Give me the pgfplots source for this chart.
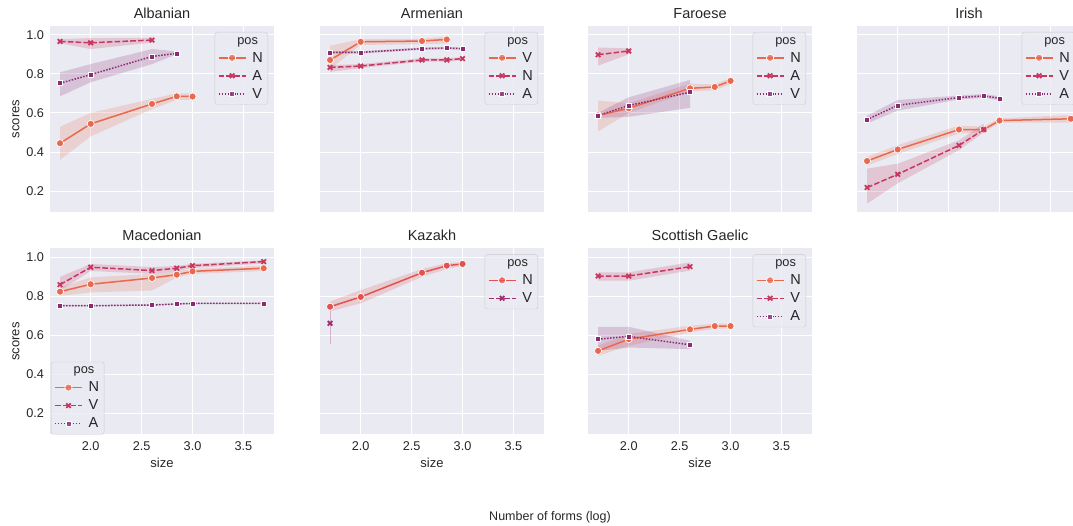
\documentclass[border=0pt]{standalone}
\usepackage{pgfplots}
\pgfplotsset{compat=1.18}
\usepackage{fontspec}
\setmainfont{Liberation Sans}
\definecolor{bgc}{HTML}{EAEAF2}
\definecolor{txt}{HTML}{262626}
\definecolor{legc}{HTML}{CCCCCC}
\definecolor{ca}{HTML}{E8694F}
\definecolor{cb}{HTML}{C8375F}
\definecolor{cc}{HTML}{8C2A72}
\definecolor{ka}{HTML}{E0534F}
\definecolor{kb}{HTML}{A12E6F}

% band polygon: upper edge left->right, then lower edge right->left
\newcommand{\band}[2]{\addplot[fill=#1, fill opacity=0.2, draw=none, forget plot] coordinates {#2};}
\newcommand{\legtitle}{\addlegendimage{empty legend}\addlegendentry{\hspace*{-15pt}\fontsize{12.8}{14}\selectfont pos}}

\pgfplotsset{
  sa/.style={color=#1, line width=1.5pt, mark=*, mark size=3.6pt,
    mark options={solid, fill=#1, draw=white, line width=0.7pt}},
  sb/.style={color=#1, line width=1.5pt, dash pattern=on 5.6pt off 2.2pt, mark=x, mark size=3.2pt,
    mark options={solid, line width=1.8pt}},
  sc/.style={color=#1, line width=1.5pt, dash pattern=on 1.5pt off 1.5pt, mark=square*, mark size=2.5pt,
    mark options={solid, fill=#1, draw=white, line width=0.5pt}},
  sbax/.style={
    scale only axis, width=224pt, height=186pt,
    xmin=1.6, xmax=3.8, ymin=0.093, ymax=1.045,
    axis background/.style={fill=bgc},
    axis line style={draw=none},
    major tick length=0pt,
    xmajorgrids, ymajorgrids,
    grid style={white, line width=1pt},
    xtick={2,2.5,3,3.5}, ytick={0.2,0.4,0.6,0.8,1.0},
    tick label style={font=\fontsize{12.7}{14}\selectfont, text=txt,
      /pgf/number format/assume math mode=true,
      /pgf/number format/fixed, /pgf/number format/fixed zerofill,
      /pgf/number format/precision=1},
    yticklabel style={xshift=-2.5pt},
    xticklabel style={yshift=-4pt},
    title style={font=\fontsize{14.5}{16}\selectfont, text=txt, yshift=-2pt},
    label style={font=\fontsize{13}{15}\selectfont, text=txt},
    legend style={at={(1,1)}, anchor=north east, xshift=-6pt, yshift=-6pt,
      draw=legc, fill=bgc, fill opacity=0.8, text opacity=1, rounded corners=2.5pt,
      font=\fontsize{14.5}{16}\selectfont, text=txt, inner xsep=3pt, inner ysep=3pt,
      row sep=2.5pt, column sep=4pt},
    legend cell align=left,
    legend image code/.code={\draw[mark repeat=2, mark phase=2, line width=1.5pt, ##1]
      plot coordinates {(0pt,0pt) (13.5pt,0pt) (27pt,0pt)};},
  }
}

\begin{document}
\begin{tikzpicture}
\useasboundingbox (0,0) rectangle (1073pt,526pt);
\clip (0,0) rectangle (1073pt,526pt);

% ---------- Albanian ----------
\begin{axis}[sbax, at={(50pt,500pt)}, anchor=north west, title={Albanian},
  xticklabels={}, ylabel={scores}]
\legtitle
\band{ca}{(1.699,0.53) (2.0,0.60) (2.602,0.672) (2.845,0.70) (3.0,0.70) (3.0,0.667) (2.845,0.667) (2.602,0.62) (2.0,0.48) (1.699,0.36)}
\band{cb}{(1.699,0.978) (2.0,0.983) (2.602,0.985) (2.602,0.96) (2.0,0.927) (1.699,0.956)}
\band{cc}{(1.699,0.808) (2.0,0.85) (2.602,0.927) (2.845,0.915) (2.845,0.90) (2.602,0.85) (2.0,0.757) (1.699,0.685)}
\addplot[sa=ca] coordinates {(1.699,0.445) (2.0,0.544) (2.602,0.646) (2.845,0.685) (3.0,0.684)}; \addlegendentry{N}
\addplot[sb=cb] coordinates {(1.699,0.966) (2.0,0.959) (2.602,0.973)}; \addlegendentry{A}
\addplot[sc=cc] coordinates {(1.699,0.752) (2.0,0.796) (2.602,0.889) (2.845,0.905)}; \addlegendentry{V}
\end{axis}

% ---------- Armenian ----------
\begin{axis}[sbax, at={(320pt,500pt)}, anchor=north west, title={Armenian},
  xticklabels={}, yticklabels={}]
\legtitle
\band{ca}{(1.699,0.944) (2.0,0.977) (2.602,0.980) (2.845,0.99) (2.845,0.955) (2.602,0.952) (2.0,0.948) (1.699,0.825)}
\band{cb}{(1.699,0.845) (2.0,0.85) (2.602,0.880) (2.845,0.879) (3.0,0.886) (3.0,0.87) (2.845,0.863) (2.602,0.862) (2.0,0.83) (1.699,0.81)}
\band{cc}{(1.699,0.917) (2.0,0.916) (2.602,0.935) (2.845,0.938) (3.0,0.935) (3.0,0.923) (2.845,0.926) (2.602,0.923) (2.0,0.904) (1.699,0.903)}
\addplot[sa=ca] coordinates {(1.699,0.871) (2.0,0.964) (2.602,0.968) (2.845,0.976)}; \addlegendentry{V}
\addplot[sb=cb] coordinates {(1.699,0.833) (2.0,0.84) (2.602,0.871) (2.845,0.871) (3.0,0.878)}; \addlegendentry{N}
\addplot[sc=cc] coordinates {(1.699,0.91) (2.0,0.91) (2.602,0.929) (2.845,0.932) (3.0,0.929)}; \addlegendentry{A}
\end{axis}

% ---------- Faroese ----------
\begin{axis}[sbax, at={(588pt,500pt)}, anchor=north west, title={Faroese},
  xticklabels={}, yticklabels={}]
\legtitle
\band{ca}{(1.699,0.663) (2.0,0.65) (2.602,0.75) (2.845,0.746) (3.0,0.78) (3.0,0.746) (2.845,0.716) (2.602,0.71) (2.0,0.60) (1.699,0.505)}
\band{cb}{(1.699,0.935) (2.0,0.93) (2.0,0.90) (1.699,0.842)}
\band{cc}{(1.699,0.60) (2.0,0.68) (2.602,0.769) (2.602,0.626) (2.0,0.58) (1.699,0.575)}
\addplot[sa=ca] coordinates {(1.699,0.587) (2.0,0.624) (2.602,0.726) (2.845,0.733) (3.0,0.764)}; \addlegendentry{N}
\addplot[sb=cb] coordinates {(1.699,0.898) (2.0,0.917)}; \addlegendentry{A}
\addplot[sc=cc] coordinates {(1.699,0.587) (2.0,0.638) (2.602,0.706)}; \addlegendentry{V}
\end{axis}

% ---------- Irish ----------
\begin{axis}[sbax, at={(857pt,500pt)}, anchor=north west, title={Irish},
  xticklabels={}, yticklabels={}]
\legtitle
\band{ca}{(1.699,0.375) (2.0,0.435) (2.602,0.535) (2.845,0.53) (3.0,0.572) (3.699,0.59) (3.699,0.55) (3.0,0.55) (2.845,0.50) (2.602,0.495) (2.0,0.39) (1.699,0.33)}
\band{cb}{(1.699,0.315) (2.0,0.34) (2.602,0.46) (2.845,0.545) (2.845,0.50) (2.602,0.41) (2.0,0.24) (1.699,0.136)}
\band{cc}{(1.699,0.586) (2.0,0.666) (2.602,0.689) (2.845,0.697) (3.0,0.685) (3.0,0.665) (2.845,0.677) (2.602,0.669) (2.0,0.612) (1.699,0.546)}
\addplot[sa=ca] coordinates {(1.699,0.354) (2.0,0.413) (2.602,0.515) (2.845,0.515) (3.0,0.561) (3.699,0.570)}; \addlegendentry{N}
\addplot[sb=cb] coordinates {(1.699,0.218) (2.0,0.286) (2.602,0.434) (2.845,0.515)}; \addlegendentry{V}
\addplot[sc=cc] coordinates {(1.699,0.566) (2.0,0.639) (2.602,0.679) (2.845,0.687) (3.0,0.675)}; \addlegendentry{A}
\end{axis}

% ---------- Macedonian ----------
\begin{axis}[sbax, at={(50pt,277.5pt)}, anchor=north west, title={Macedonian},
  xlabel={size}, ylabel={scores},
  legend style={at={(0,0)}, anchor=south west, xshift=7pt, yshift=6pt}]
\legtitle
\band{ca}{(1.699,0.846) (2.0,0.897) (2.602,0.915) (2.845,0.93) (3.0,0.94) (3.699,0.957) (3.699,0.93) (3.0,0.915) (2.845,0.897) (2.602,0.83) (2.0,0.82) (1.699,0.803)}
\band{cb}{(1.699,0.90) (2.0,0.966) (2.602,0.95) (2.845,0.956) (3.0,0.966) (3.699,0.985) (3.699,0.968) (3.0,0.945) (2.845,0.93) (2.602,0.915) (2.0,0.93) (1.699,0.83)}
\band{cc}{(1.699,0.755) (2.0,0.755) (2.602,0.759) (2.845,0.764) (3.0,0.767) (3.699,0.767) (3.699,0.761) (3.0,0.761) (2.845,0.758) (2.602,0.753) (2.0,0.749) (1.699,0.749)}
\addplot[sa=ca] coordinates {(1.699,0.824) (2.0,0.862) (2.602,0.894) (2.845,0.911) (3.0,0.928) (3.699,0.944)}; \addlegendentry{N}
\addplot[sb=cb] coordinates {(1.699,0.86) (2.0,0.949) (2.602,0.932) (2.845,0.944) (3.0,0.957) (3.699,0.978)}; \addlegendentry{V}
\addplot[sc=cc] coordinates {(1.699,0.752) (2.0,0.752) (2.602,0.756) (2.845,0.761) (3.0,0.764) (3.699,0.764)}; \addlegendentry{A}
\end{axis}

% ---------- Kazakh ----------
\begin{axis}[sbax, at={(320pt,277.5pt)}, anchor=north west, title={Kazakh},
  xlabel={size}, yticklabels={}]
\legtitle
\band{ka}{(1.699,0.774) (2.0,0.832) (2.602,0.94) (2.845,0.97) (3.0,0.976) (3.0,0.955) (2.845,0.94) (2.602,0.90) (2.0,0.764) (1.699,0.723)}
\addplot[kb, opacity=0.3, line width=1pt, forget plot] coordinates {(1.699,0.556) (1.699,0.726)};
\addplot[sa=ka] coordinates {(1.699,0.747) (2.0,0.797) (2.602,0.921) (2.845,0.957) (3.0,0.966)}; \addlegendentry{N}
\addplot[sb=kb] coordinates {(1.699,0.662)}; \addlegendentry{V}
\end{axis}

% ---------- Scottish Gaelic ----------
\begin{axis}[sbax, at={(588pt,277.5pt)}, anchor=north west, title={Scottish Gaelic},
  xlabel={size}, yticklabels={}]
\legtitle
\band{ca}{(1.699,0.547) (2.0,0.607) (2.602,0.65) (2.845,0.66) (3.0,0.66) (3.0,0.635) (2.845,0.635) (2.602,0.615) (2.0,0.547) (1.699,0.496)}
\band{cb}{(1.699,0.923) (2.0,0.923) (2.602,0.974) (2.602,0.932) (2.0,0.88) (1.699,0.88)}
\band{cc}{(1.699,0.644) (2.0,0.644) (2.602,0.573) (2.602,0.53) (2.0,0.538) (1.699,0.521)}
\addplot[sa=ca] coordinates {(1.699,0.521) (2.0,0.581) (2.602,0.631) (2.845,0.648) (3.0,0.648)}; \addlegendentry{N}
\addplot[sb=cb] coordinates {(1.699,0.904) (2.0,0.904) (2.602,0.952)}; \addlegendentry{V}
\addplot[sc=cc] coordinates {(1.699,0.581) (2.0,0.595) (2.602,0.552)}; \addlegendentry{A}
\end{axis}

\node[font=\fontsize{12.5}{14}\selectfont, text=txt] at (550pt,9pt) {Number of forms (log)};
\end{tikzpicture}
\end{document}
